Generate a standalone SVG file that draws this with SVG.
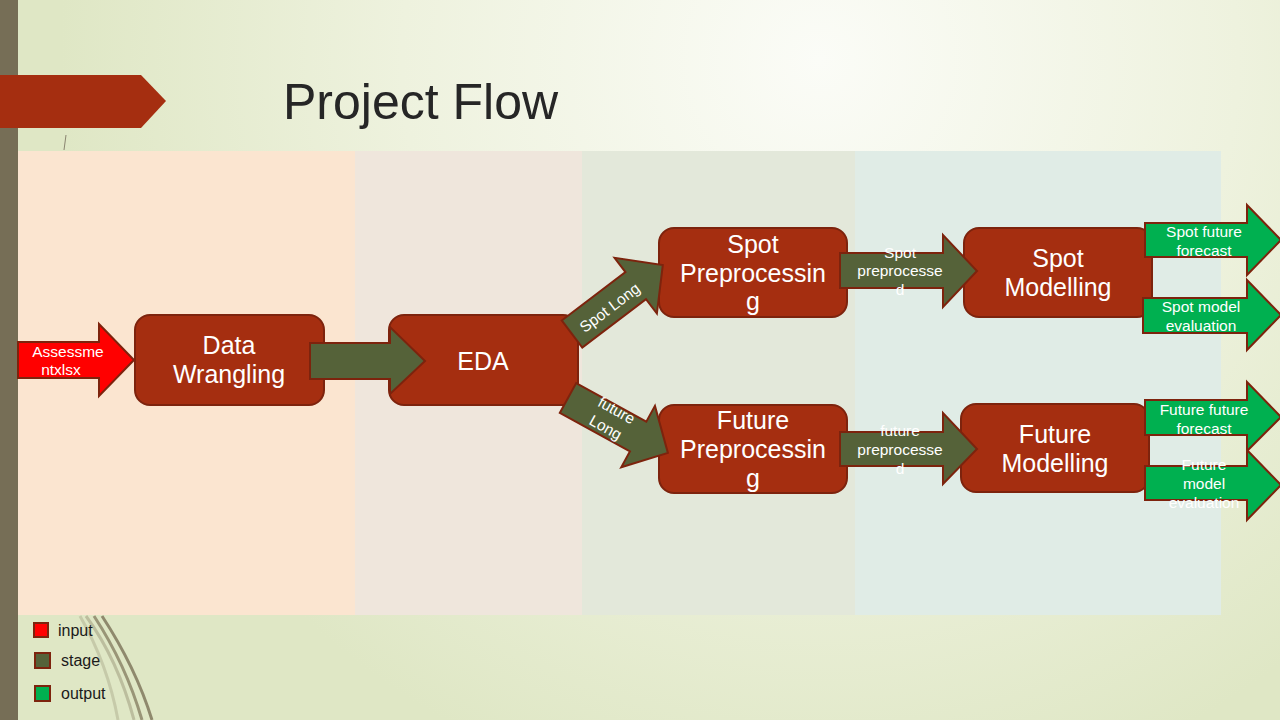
<svg xmlns="http://www.w3.org/2000/svg" width="1280" height="720" viewBox="0 0 1280 720">
<defs>
<radialGradient id="bg" cx="820" cy="60" r="760" gradientUnits="userSpaceOnUse">
<stop offset="0" stop-color="#fbfcf7"/>
<stop offset="0.55" stop-color="#eef2de"/>
<stop offset="1" stop-color="#dfe7c5"/>
</radialGradient>
<style>
.box{fill:#a52e10;stroke:#7d230d;stroke-width:2}
.stage{fill:#556239;stroke:#7d230d;stroke-width:2}
.out{fill:#00b050;stroke:#7d230d;stroke-width:2}
.inp{fill:#ff0000;stroke:#7d230d;stroke-width:2}
.big{font-family:"Liberation Sans",Arial,sans-serif;font-size:25px;fill:#ffffff;text-anchor:middle}
.sm{font-family:"Liberation Sans",Arial,sans-serif;font-size:15.5px;fill:#ffffff;text-anchor:middle}
.leg{font-family:"Liberation Sans",Arial,sans-serif;font-size:16px;fill:#1a1a1a}
.deco{fill:none;stroke:#7a7256;stroke-width:3}
</style>
</defs>
<rect x="0" y="0" width="1280" height="720" fill="url(#bg)"/>
<rect x="0" y="0" width="18" height="720" fill="#766e56"/>
<g id="decor">
<path class="deco" d="M86 616 Q118 660 134 720" opacity="0.35"/>
<path class="deco" d="M94 616 Q126 665 142 720" opacity="0.7"/>
<path class="deco" d="M102 616 Q136 668 152 720" opacity="0.8"/>
<path class="deco" d="M80 616 Q108 665 118 720" stroke-width="2" opacity="0.25"/>
<line x1="66" y1="135" x2="64" y2="150" stroke="#8a8470" stroke-width="1"/>
</g>
<polygon points="0,75 141,75 166,101 141,128 0,128" fill="#a52e10"/>
<text x="283" y="119" font-family="'Liberation Sans',Arial,sans-serif" font-size="50" fill="#262626">Project Flow</text>
<g id="lanes">
<rect x="18" y="151" width="337" height="464" fill="#fbe5d0"/>
<rect x="355" y="151" width="227" height="464" fill="#efe6dc"/>
<rect x="582" y="151" width="273" height="464" fill="#e3e8da"/>
<rect x="855" y="151" width="366" height="464" fill="#e0ece6"/>
</g>
<g id="data-wrangling">
<rect class="box" x="135" y="315" width="189" height="90" rx="15"/>
<text class="big" x="229" y="354">Data</text>
<text class="big" x="229" y="383">Wrangling</text>
</g>
<g id="eda">
<rect class="box" x="389" y="315" width="189" height="90" rx="15"/>
<text class="big" x="483" y="370">EDA</text>
</g>
<g id="spot-preprocessing">
<rect class="box" x="659" y="228" width="188" height="89" rx="15"/>
<text class="big" x="753" y="253">Spot</text>
<text class="big" x="753" y="282">Preprocessin</text>
<text class="big" x="753" y="310">g</text>
</g>
<g id="future-preprocessing">
<rect class="box" x="659" y="405" width="188" height="88" rx="15"/>
<text class="big" x="753" y="429">Future</text>
<text class="big" x="753" y="458">Preprocessin</text>
<text class="big" x="753" y="487">g</text>
</g>
<g id="spot-modelling">
<rect class="box" x="964" y="228" width="188" height="89" rx="15"/>
<text class="big" x="1058" y="267">Spot</text>
<text class="big" x="1058" y="296">Modelling</text>
</g>
<g id="future-modelling">
<rect class="box" x="961" y="404" width="188" height="88" rx="15"/>
<text class="big" x="1055" y="443">Future</text>
<text class="big" x="1055" y="472">Modelling</text>
</g>
<g id="connectors">
<g id="input-arrow">
<polygon class="inp" points="18,342 99,342 99,324 134,360 99,396 99,378 18,378"/>
<text class="sm" x="68" y="357">Assessme</text>
<text class="sm" x="61" y="375">ntxlsx</text>
</g>
<g id="dw-eda">
<polygon class="stage" points="310,343 390,343 390,327 425,361 390,394 390,379 310,379"/>
</g>
<g id="spot-long">
<polygon class="stage" transform="translate(572,334) rotate(-37.2)" points="0,-17 80,-17 80,-35 114,0 80,35 80,17 0,17"/>
<text class="sm" transform="translate(613,312) rotate(-37.2)">Spot Long</text>
</g>
<g id="future-long">
<polygon class="stage" transform="translate(568,398) rotate(28.8)" points="0,-17 80,-17 80,-35 114,0 80,35 80,17 0,17"/>
<text class="sm" transform="translate(614,415) rotate(28.8)">future</text>
<text class="sm" transform="translate(603,432) rotate(28.8)">Long</text>
</g>
<g id="spot-preprocessed">
<polygon class="stage" points="840,253 943,253 943,235 977,271 943,307 943,288 840,288"/>
<text class="sm" x="900" y="258">Spot</text>
<text class="sm" x="900" y="276">preprocesse</text>
<text class="sm" x="900" y="295">d</text>
</g>
<g id="future-preprocessed">
<polygon class="stage" points="840,432 943,432 943,413 977,449 943,484 943,466 840,466"/>
<text class="sm" x="900" y="436">future</text>
<text class="sm" x="900" y="455">preprocesse</text>
<text class="sm" x="900" y="474">d</text>
</g>
<g id="spot-forecast">
<polygon class="out" points="1145,223 1247,223 1247,205 1281,240 1247,275 1247,257 1145,257"/>
<text class="sm" x="1204" y="237">Spot future</text>
<text class="sm" x="1204" y="256">forecast</text>
</g>
<g id="spot-eval">
<polygon class="out" points="1143,298 1247,298 1247,280 1281,315 1247,350 1247,333 1143,333"/>
<text class="sm" x="1201" y="312">Spot model</text>
<text class="sm" x="1201" y="331">evaluation</text>
</g>
<g id="future-forecast">
<polygon class="out" points="1145,400 1247,400 1247,382 1281,417 1247,451 1247,435 1145,435"/>
<text class="sm" x="1204" y="415">Future future</text>
<text class="sm" x="1204" y="434">forecast</text>
</g>
<g id="future-eval">
<polygon class="out" points="1145,466 1247,466 1247,450 1281,485 1247,520 1247,500 1145,500"/>
<text class="sm" x="1204" y="470">Future</text>
<text class="sm" x="1204" y="489">model</text>
<text class="sm" x="1204" y="508">evaluation</text>
</g>
</g>
<g id="legend">
<rect class="inp" x="34" y="623" width="14" height="14"/>
<text class="leg" x="58" y="636">input</text>
<rect class="stage" x="35" y="653" width="15" height="15"/>
<text class="leg" x="61" y="666">stage</text>
<rect class="out" x="35" y="686" width="15" height="15"/>
<text class="leg" x="61" y="699">output</text>
</g>
</svg>
